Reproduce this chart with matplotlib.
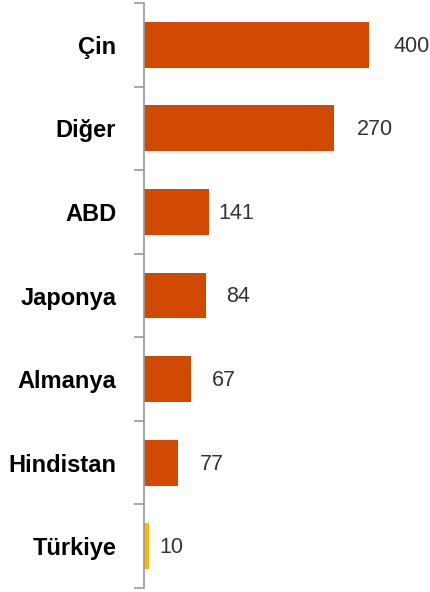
import matplotlib
matplotlib.use("Agg")
import matplotlib.pyplot as plt

plt.rcParams['font.family'] = ['Liberation Sans', 'DejaVu Sans']

countries = ["Çin", "Diğer", "ABD", "Japonya", "Almanya", "Hindistan", "Türkiye"]
value_labels = ["400", "270", "141", "84", "67", "77", "10"]
# bar lengths as drawn in the source (not proportional to the labels)
bar_lengths = [225, 190, 65, 62, 47, 34, 5]
colors = ["#D04A02"] * 6 + ["#FFB600"]
# gap between bar end and its label, in pixels (varies in the source)
label_gap = [24, 23, 9, 20, 21, 22, 10]

fig = plt.figure(figsize=(4.30, 5.92), dpi=100)
ax = fig.add_axes([144 / 430, 1 - 588 / 592, 1 - 144 / 430, 585 / 592])

pos = list(range(len(countries)))
ax.barh(pos, bar_lengths, height=0.55, color=colors)
ax.set_ylim(len(countries) - 0.5, -0.5)
ax.set_xlim(0, 286)

for p, w, lab, g in zip(pos, bar_lengths, value_labels, label_gap):
    ax.annotate(lab, (w, p), xytext=(g * 0.72, -1), textcoords="offset points",
                va="center", ha="left", fontsize=15.5, color="#333333")

# ticks at category boundaries, labels at centers
ax.set_yticks([p - 0.5 for p in pos] + [len(pos) - 0.5])
ax.set_yticklabels([])
ax.set_yticks(pos, minor=True)
ax.set_yticklabels(countries, minor=True, fontsize=17, fontweight="bold")
ax.tick_params(axis="y", which="major", length=7, width=1.2, color="#999999")
ax.tick_params(axis="y", which="minor", length=0, pad=20)
ax.set_xticks([])

for s in ["top", "right", "bottom"]:
    ax.spines[s].set_visible(False)
ax.spines["left"].set_color("#999999")
ax.spines["left"].set_linewidth(1.2)

fig.savefig("out.png", dpi=100)
